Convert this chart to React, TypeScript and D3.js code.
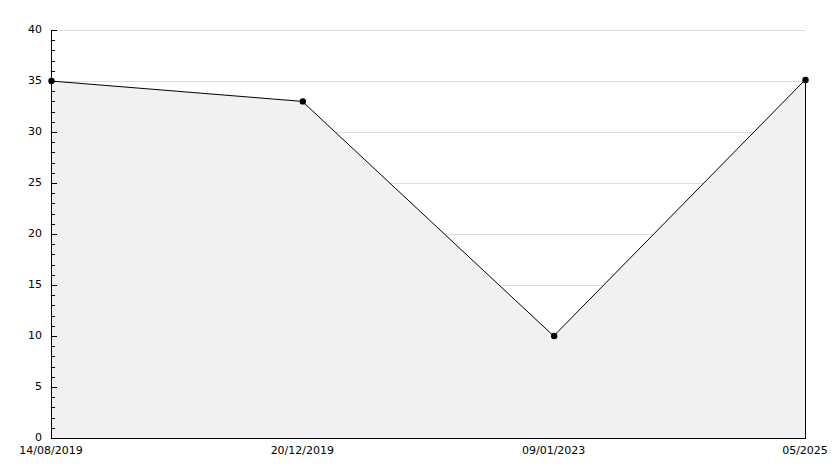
import React from "react";
import * as d3 from "d3";

const categories = ["14/08/2019", "20/12/2019", "09/01/2023", "05/2025"];
const values = [35, 33, 10, 35.1];
const yMajorTicks = [0, 5, 10, 15, 20, 25, 30, 35, 40];

export default function App() {
  const W = 834, H = 468;
  const left = 51, right = 805, top = 30, bottom = 438;
  const x = d3.scalePoint<string>().domain(categories).range([left, right]);
  const y = d3.scaleLinear().domain([0, 40]).range([bottom, top]);
  const minor = d3.range(0, 41, 1);
  const pts: [number, number][] = categories.map((c, i) => [x(c)!, y(values[i])]);
  const line = d3.line<[number, number]>()(pts)!;
  const area = d3.area<[number, number]>().x(d => d[0]).y0(y(0)).y1(d => d[1])(pts)!;
  const font = "'DejaVu Sans', Verdana, sans-serif";
  return (
    <svg width={W} height={H} style={{ position: "absolute", left: 0, top: 0, background: "#fff" }}>
      <g shapeRendering="crispEdges">
        {yMajorTicks.map(t => (
          <line key={"g" + t} x1={left} x2={right} y1={Math.round(y(t)) + 0.5} y2={Math.round(y(t)) + 0.5} stroke="#dddddd" />
        ))}
      </g>
      <path d={area} fill="#f1f1f1" />
      <path d={line} fill="none" stroke="#000" strokeWidth={1} />
      <g shapeRendering="crispEdges">
        <line x1={right + 0.5} x2={right + 0.5} y1={y(values[values.length - 1])} y2={bottom} stroke="#000" />
        <line x1={left + 0.5} x2={left + 0.5} y1={top} y2={bottom + 0.5} stroke="#000" />
        <line x1={left} x2={right + 1} y1={bottom + 0.5} y2={bottom + 0.5} stroke="#000" />
        {minor.map(t => (
          <line key={"m" + t} x1={left} x2={left + (t % 5 === 0 ? 6 : 4)} y1={Math.round(y(t)) + 0.5} y2={Math.round(y(t)) + 0.5} stroke="#000" />
        ))}
      </g>
      {pts.map((p, i) => (
        <circle key={"p" + i} cx={p[0] + 0.5} cy={p[1]} r={3.2} fill="#000" />
      ))}
      {yMajorTicks.map(t => (
        <text key={"l" + t} x={42} y={y(t) - 1} dy="0.35em" textAnchor="end" fontFamily={font} fontSize={11} fill="#000">{t}</text>
      ))}
      {categories.map(c => (
        <text key={"c" + c} x={x(c)!} y={454} textAnchor="middle" fontFamily={font} fontSize={11} fill="#000">{c}</text>
      ))}
    </svg>
  );
}
